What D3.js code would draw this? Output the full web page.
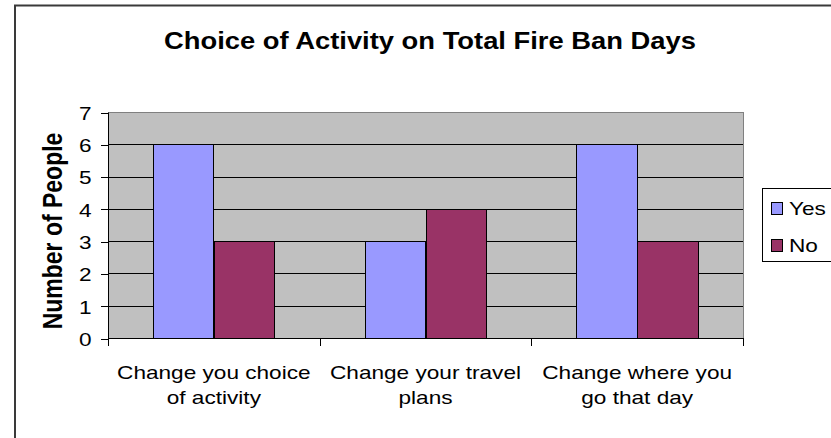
<!DOCTYPE html>
<html>
<head>
<meta charset="utf-8">
<script src="https://cdn.jsdelivr.net/npm/d3@7"></script>
<style>
  html, body { margin: 0; padding: 0; background: #fff; }
  svg { display: block; }
  text { font-family: "Liberation Sans", Arial, sans-serif; fill: #000; }
</style>
</head>
<body>
<svg id="chart" width="831" height="438"></svg>
<script>
const categories = ["Change you choice of activity", "Change your travel plans", "Change where you go that day"];
const categoryLines = [["Change you choice", "of activity"], ["Change your travel", "plans"], ["Change where you", "go that day"]];
const seriesNames = ["Yes", "No"];
const yesValues = [6, 3, 6];
const noValues = [3, 4, 3];
const yTicks = [0, 1, 2, 3, 4, 5, 6, 7];
const titleText = "Choice of Activity on Total Fire Ban Days";
const yAxisTitle = "Number of People";

const colors = { Yes: "#9999FF", No: "#993366" };
const sx = 1.19; // horizontal text stretch of the original picture

const svg = d3.select("#chart");
const plot = { left: 108, top: 112, right: 743, bottom: 338 };

// outer chart border (cropped at right and bottom)
svg.append("rect")
  .attr("x", 15).attr("y", 5.5).attr("width", 900).attr("height", 600)
  .attr("fill", "#fff").attr("stroke", "#3a3a3a").attr("stroke-width", 2);

const x = d3.scaleBand().domain(categories).range([plot.left, plot.right]).paddingInner(0).paddingOuter(0);
const xs = d3.scaleBand().domain(seriesNames).range([0, x.bandwidth()]).paddingInner(0).paddingOuter(0.75);
const y = d3.scaleLinear().domain([0, 7]).range([plot.bottom, plot.top]);

// plot area
svg.append("rect")
  .attr("x", plot.left + 0.5).attr("y", plot.top + 0.5)
  .attr("width", plot.right - plot.left).attr("height", plot.bottom - plot.top)
  .attr("fill", "#C0C0C0").attr("stroke", "#808080").attr("stroke-width", 1)
  .attr("shape-rendering", "crispEdges");

// gridlines
svg.append("g").selectAll("line").data(yTicks.filter(d => d > 0 && d < 7)).join("line")
  .attr("x1", plot.left).attr("x2", plot.right)
  .attr("y1", d => Math.round(y(d)) + 0.5).attr("y2", d => Math.round(y(d)) + 0.5)
  .attr("stroke", "#000").attr("stroke-width", 1).attr("shape-rendering", "crispEdges");

// bars
const data = categories.map((c, i) => ({ cat: c, Yes: yesValues[i], No: noValues[i] }));
const groups = svg.append("g").selectAll("g").data(data).join("g")
  .attr("transform", d => `translate(${x(d.cat)},0)`);
groups.selectAll("rect").data(d => seriesNames.map(s => ({ s, v: d[s] }))).join("rect")
  .attr("x", d => Math.round(xs(d.s)) + 0.5)
  .attr("y", d => Math.round(y(d.v)) + 0.5)
  .attr("width", xs.bandwidth())
  .attr("height", d => y(0) - Math.round(y(d.v)))
  .attr("fill", d => colors[d.s])
  .attr("stroke", "#000").attr("stroke-width", 1)
  .attr("shape-rendering", "crispEdges");

// y axis
const yAxis = svg.append("g")
  .attr("transform", `translate(${plot.left + 0.5},0.5)`)
  .call(d3.axisLeft(y).tickValues(yTicks).tickSize(8).tickFormat(d3.format("d")));
yAxis.select(".domain").attr("stroke", "#000").attr("d", `M0,${plot.top}V${plot.bottom}`);
yAxis.selectAll(".tick line").attr("stroke", "#000").attr("shape-rendering", "crispEdges");
yAxis.selectAll(".tick text")
  .attr("x", null).attr("dy", null)
  .attr("font-size", 19).attr("font-family", "Liberation Sans, Arial, sans-serif")
  .attr("text-anchor", "end").attr("dominant-baseline", "central")
  .attr("transform", `translate(-17,0) scale(${sx},1)`);

// x axis
const xAxis = svg.append("g")
  .attr("transform", `translate(0,${plot.bottom + 0.5})`)
  .call(d3.axisBottom(x).tickSize(0).tickFormat(""));
xAxis.select(".domain").attr("stroke", "#000").attr("d", `M${plot.left},0H${plot.right + 1}`);
xAxis.selectAll(".tick").remove();
const boundaries = categories.map(c => x(c)).concat([x(categories[categories.length - 1]) + x.bandwidth()]);
xAxis.selectAll("line.bd").data(boundaries).join("line")
  .attr("class", "bd")
  .attr("x1", d => Math.round(d) + 0.5).attr("x2", d => Math.round(d) + 0.5)
  .attr("y1", 0).attr("y2", 7)
  .attr("stroke", "#000").attr("shape-rendering", "crispEdges");

const xl = svg.append("g").selectAll("text").data(categories).join("text")
  .attr("text-anchor", "middle").attr("font-size", 19)
  .attr("transform", d => `translate(${x(d) + x.bandwidth() / 2},379) scale(${sx},1)`);
xl.selectAll("tspan").data((d, i) => categoryLines[i]).join("tspan")
  .attr("x", 0).attr("y", (d, i) => i * 25)
  .text(d => d);

// title
svg.append("text")
  .attr("transform", `translate(430,49) scale(${sx},1)`)
  .attr("text-anchor", "middle").attr("font-size", 23).attr("font-weight", "bold")
  .text(titleText);

// y axis title
svg.append("text")
  .attr("transform", `translate(62,231) scale(${sx},1) rotate(-90)`)
  .attr("text-anchor", "middle").attr("font-size", 23).attr("font-weight", "bold")
  .text(yAxisTitle);

// legend
const lg = svg.append("g");
lg.append("rect")
  .attr("x", 762.5).attr("y", 188.5).attr("width", 120).attr("height", 73)
  .attr("fill", "#fff").attr("stroke", "#000").attr("stroke-width", 1)
  .attr("shape-rendering", "crispEdges");
const items = lg.selectAll("g.item").data(seriesNames).join("g")
  .attr("class", "item")
  .attr("transform", (d, i) => `translate(0,${i * 37})`);
items.append("rect")
  .attr("x", 771.5).attr("y", 202.5).attr("width", 11).attr("height", 12)
  .attr("fill", d => colors[d]).attr("stroke", "#000").attr("stroke-width", 1)
  .attr("shape-rendering", "crispEdges");
items.append("text")
  .attr("transform", `translate(789,215) scale(${sx},1)`)
  .attr("font-size", 19)
  .text(d => d);
</script>
</body>
</html>
